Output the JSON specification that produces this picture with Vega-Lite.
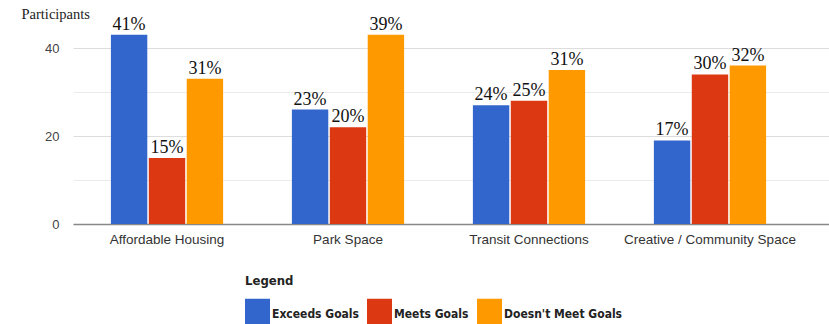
{
  "$schema": "https://vega.github.io/schema/vega-lite/v6.json",
  "width": 756,
  "height": 220,
  "autosize": {"type": "none"},
  "padding": {"left": 73, "top": 4, "right": 0, "bottom": 100},
  "background": "white",
  "data": {
    "values": [
      {"category": "Affordable Housing", "rating": "Exceeds Goals", "participants": 43, "pct": "41%"},
      {"category": "Affordable Housing", "rating": "Meets Goals", "participants": 15, "pct": "15%"},
      {"category": "Affordable Housing", "rating": "Doesn't Meet Goals", "participants": 33, "pct": "31%"},
      {"category": "Park Space", "rating": "Exceeds Goals", "participants": 26, "pct": "23%"},
      {"category": "Park Space", "rating": "Meets Goals", "participants": 22, "pct": "20%"},
      {"category": "Park Space", "rating": "Doesn't Meet Goals", "participants": 43, "pct": "39%"},
      {"category": "Transit Connections", "rating": "Exceeds Goals", "participants": 27, "pct": "24%"},
      {"category": "Transit Connections", "rating": "Meets Goals", "participants": 28, "pct": "25%"},
      {"category": "Transit Connections", "rating": "Doesn't Meet Goals", "participants": 35, "pct": "31%"},
      {"category": "Creative / Community Space", "rating": "Exceeds Goals", "participants": 19, "pct": "17%"},
      {"category": "Creative / Community Space", "rating": "Meets Goals", "participants": 34, "pct": "30%"},
      {"category": "Creative / Community Space", "rating": "Doesn't Meet Goals", "participants": 36, "pct": "32%"}
    ]
  },
  "encoding": {
    "x": {
      "field": "category",
      "type": "nominal",
      "sort": ["Affordable Housing", "Park Space", "Transit Connections", "Creative / Community Space"],
      "scale": {"paddingInner": 0.38, "paddingOuter": 0.2785, "align": 0.376},
      "title": null,
      "axis": {
        "labelAngle": 0,
        "ticks": false,
        "grid": false,
        "domainColor": "#888888",
        "domainWidth": 1.5,
        "labelFont": "Liberation Sans",
        "labelFontSize": 13.5,
        "labelColor": "#333333",
        "labelPadding": 8
      }
    },
    "xOffset": {
      "field": "rating",
      "type": "nominal",
      "sort": ["Exceeds Goals", "Meets Goals", "Doesn't Meet Goals"],
      "scale": {"paddingInner": 0.04}
    },
    "y": {
      "field": "participants",
      "type": "quantitative",
      "scale": {"domain": [0, 50], "nice": false},
      "axis": {
        "values": [0, 10, 20, 30, 40],
        "labelExpr": "datum.value % 20 === 0 ? datum.label : ''",
        "grid": true,
        "gridColor": {"condition": {"test": "datum.value % 20 === 0", "value": "#dddddd"}, "value": "#ebebeb"},
        "ticks": false,
        "domain": false,
        "labelPadding": 14,
        "labelFont": "Liberation Sans",
        "labelFontSize": 13,
        "labelColor": "#444444",
        "title": "Participants",
        "titleAngle": 0,
        "titleAlign": "left",
        "titleBaseline": "alphabetic",
        "titleX": -52,
        "titleY": 14.5,
        "titleFont": "Liberation Serif",
        "titleFontSize": 14.5,
        "titleFontWeight": "normal",
        "titleColor": "#222222"
      }
    }
  },
  "layer": [
    {
      "mark": {"type": "bar"},
      "encoding": {
        "color": {
          "field": "rating",
          "type": "nominal",
          "sort": ["Exceeds Goals", "Meets Goals", "Doesn't Meet Goals"],
          "scale": {"domain": ["Exceeds Goals", "Meets Goals", "Doesn't Meet Goals"], "range": ["#3366cc", "#dc3912", "#ff9900"]},
          "legend": {
            "title": "Legend",
            "orient": "none",
            "legendX": 172,
            "legendY": 271,
            "direction": "horizontal",
            "padding": 0,
            "titleFont": "DejaVu Sans Condensed",
            "titleFontWeight": "bold",
            "titleFontSize": 13,
            "titleColor": "#222222",
            "titlePadding": 13,
            "labelFont": "DejaVu Sans Condensed",
            "labelFontWeight": "bold",
            "labelFontSize": 12,
            "labelColor": "#222222",
            "symbolType": "M-1,-1.2H1V1.2H-1Z",
            "symbolSize": 625,
            "symbolStrokeWidth": 0,
            "symbolOpacity": 1,
            "labelOffset": 2,
            "columnPadding": 8,
            "rowPadding": 0
          }
        }
      }
    },
    {
      "mark": {"type": "text", "font": "Liberation Serif", "fontSize": 18, "baseline": "alphabetic", "dy": -5, "color": "#111111"},
      "encoding": {"text": {"field": "pct", "type": "nominal"}}
    }
  ],
  "config": {"view": {"stroke": null}}
}
